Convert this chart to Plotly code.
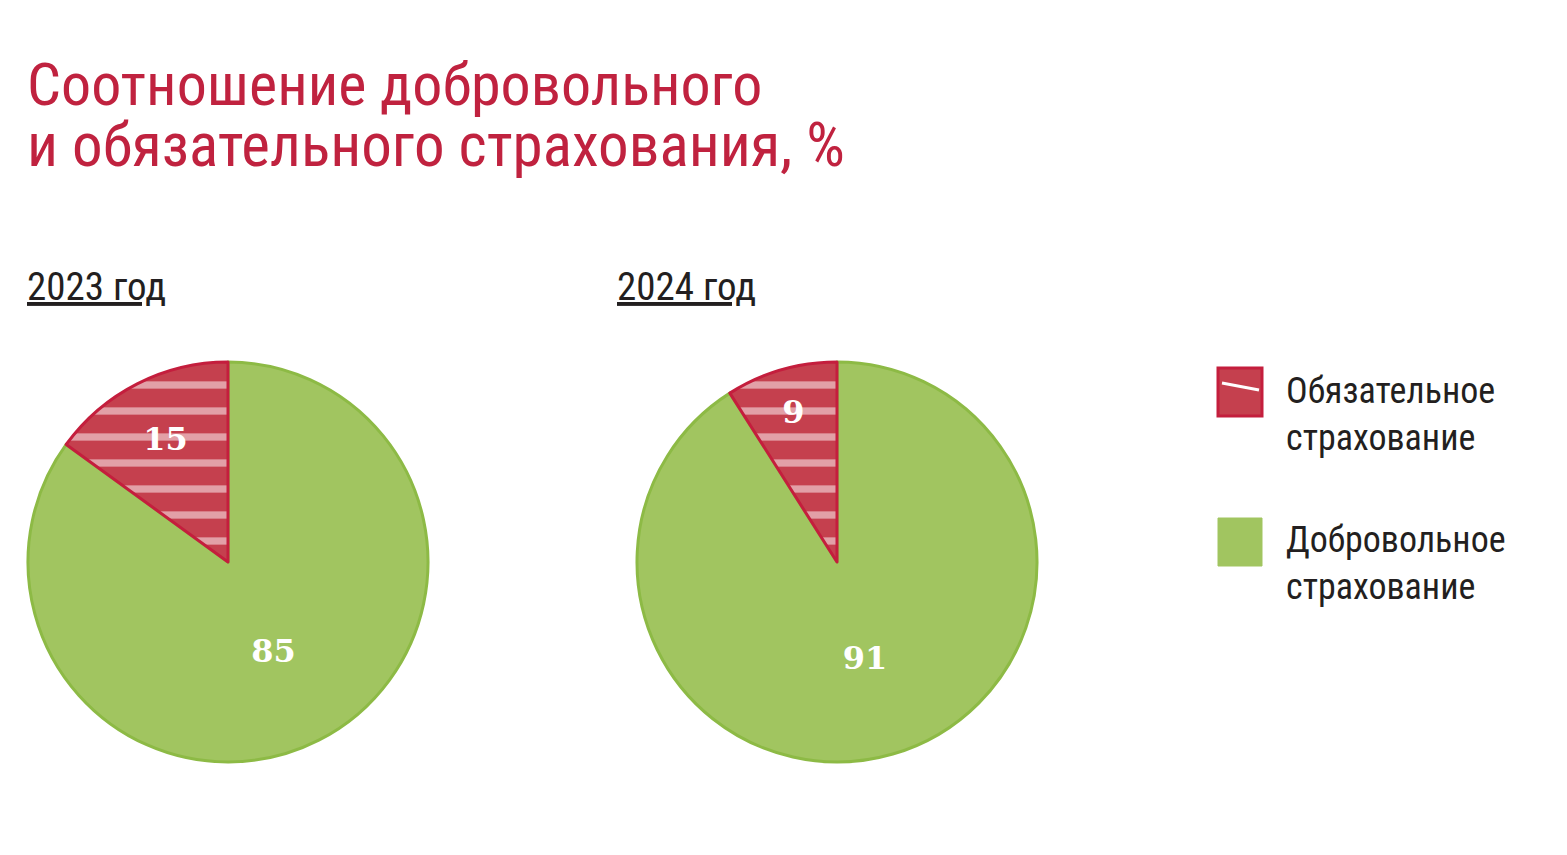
import plotly.graph_objects as go

years = ["2023 год", "2024 год"]
categories = ["Добровольное страхование", "Обязательное страхование"]
voluntary = [85, 91]
mandatory = [15, 9]

RED = "#C5404E"
RED_LINE = "#C41E3D"
GREEN = "#A1C560"
GREEN_LINE = "#8DBA45"
TITLE_RED = "#C0223F"
FONT = "Noto Sans Condensed, Roboto Condensed, Liberation Sans Narrow, Roboto, sans-serif"

W, H = 1567, 855
OFF = 8  # page body margin

def px(x):
    return (x - OFF) / W

def py(y):
    return 1 - (y - OFF) / H

domains = [
    dict(x=[px(28), px(428)], y=[py(762), py(362)]),
    dict(x=[px(637), px(1037)], y=[py(762), py(362)]),
]

fig = go.Figure()
for i, yr in enumerate(years):
    fig.add_trace(go.Pie(
        labels=categories,
        values=[voluntary[i], mandatory[i]],
        domain=domains[i],
        sort=False,
        direction="clockwise",
        rotation=0,
        marker=dict(
            colors=[GREEN, RED],
            line=dict(color=[GREEN_LINE, RED_LINE], width=3),
            pattern=dict(shape=["", "-"], fgcolor="white", bgcolor=RED,
                         size=26, solidity=0.28, fillmode="overlay"),
        ),
        textinfo="value",
        textposition="inside",
        insidetextorientation="horizontal",
        textfont=dict(family="DejaVu Serif", size=32, color="white", weight="bold"),
        showlegend=False,
        hoverinfo="label+value",
    ))

annotations = []
annotations.append(dict(text="Соотношение добровольного", x=px(25), y=py(85),
                        xref="paper", yref="paper", xanchor="left", yanchor="middle",
                        showarrow=False, font=dict(family=FONT, size=60, color=TITLE_RED)))
annotations.append(dict(text="и обязательного страхования, %", x=px(25), y=py(145),
                        xref="paper", yref="paper", xanchor="left", yanchor="middle",
                        showarrow=False, font=dict(family=FONT, size=61, color=TITLE_RED)))
for xl, yr in zip([25, 615], years):
    annotations.append(dict(text=yr, x=px(xl), y=py(287), xref="paper", yref="paper",
                            xanchor="left", yanchor="middle", showarrow=False,
                            font=dict(family=FONT, size=39, color="#231F20", lineposition="under")))

leg_y = [563, 414]
shapes = []
for cat, yc in zip(categories, leg_y):
    w1, w2 = cat.split(" ")
    annotations.append(dict(text=w1 + "<br>" + w2, x=px(1284), y=py(yc), xref="paper", yref="paper",
                            xanchor="left", yanchor="middle", align="left", showarrow=False,
                            font=dict(family=FONT, size=36, color="#231F20")))

shapes.append(dict(type="rect", xref="paper", yref="paper", x0=px(1218), x1=px(1262),
                   y0=py(416), y1=py(368), fillcolor=RED, line=dict(color=RED_LINE, width=3)))
shapes.append(dict(type="line", xref="paper", yref="paper", x0=px(1222), x1=px(1259),
                   y0=py(383), y1=py(390), line=dict(color="white", width=3)))
shapes.append(dict(type="rect", xref="paper", yref="paper", x0=px(1218), x1=px(1262),
                   y0=py(566), y1=py(518), fillcolor=GREEN, line=dict(color=GREEN, width=1)))

fig.update_layout(
    width=W, height=H,
    margin=dict(l=0, r=0, t=0, b=0),
    paper_bgcolor="white", plot_bgcolor="white",
    annotations=annotations, shapes=shapes,
    showlegend=False,
)

fig.write_html("out.html")
